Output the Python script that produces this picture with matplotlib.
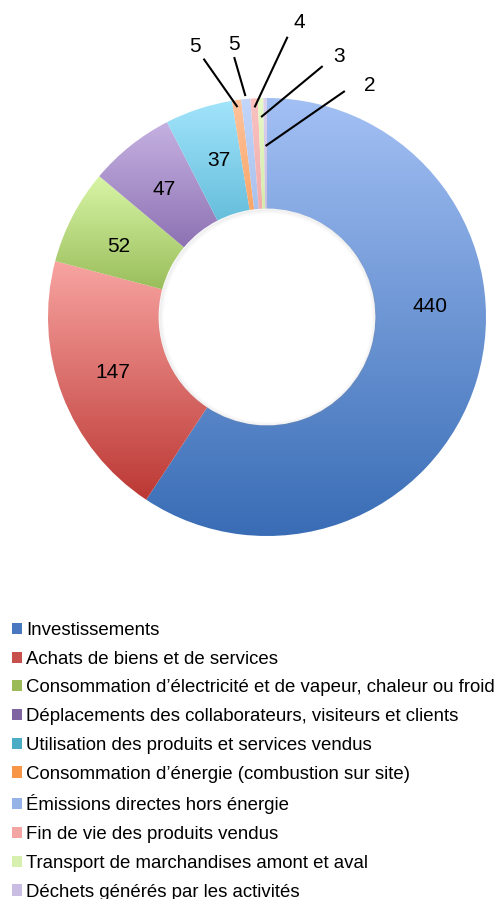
import numpy as np
import matplotlib
matplotlib.use('Agg')
import matplotlib.pyplot as plt
from matplotlib.colors import LinearSegmentedColormap
from matplotlib.patches import Patch, Circle

plt.rcParams['font.family'] = ['Liberation Sans', 'DejaVu Sans']

# données
categories = [
    'Investissements',
    'Achats de biens et de services',
    'Consommation d\u2019électricité et de vapeur, chaleur ou froid',
    'Déplacements des collaborateurs, visiteurs et clients',
    'Utilisation des produits et services vendus',
    'Consommation d\u2019énergie (combustion sur site)',
    'Émissions directes hors énergie',
    'Fin de vie des produits vendus',
    'Transport de marchandises amont et aval',
    'Déchets générés par les activités',
]
values = [440, 147, 52, 47, 37, 5, 5, 4, 3, 2]

# couleurs dégradées (haut, bas) et couleur de légende
grad_top = ['#a3c0f4', '#f8a4a1', '#d8f5a6', '#c5b1e1', '#a2e4fb',
            '#ffc39d', '#c3d6fa', '#f9c2c1', '#e6f9c6', '#dcd2ee']
grad_bot = ['#386cb5', '#bc3834', '#8bb049', '#6f4f9a', '#35a0c2',
            '#f58a33', '#8eaee0', '#e89a98', '#c4de95', '#b7a6d4']
legend_colors = ['#4a78c0', '#c8504c', '#9bbb59', '#8064a2', '#4bacc6',
                 '#f79646', '#95b3e7', '#f2a5a3', '#d7f0b0', '#c9bde3']

hole = 0.495
R_px = 219.0
cx_px, cy_px = 267.0, 317.0
W, H = 497, 899

fig = plt.figure(figsize=(W / 100, H / 100), dpi=100)
ax = fig.add_axes([0, 0, 1, 1])
ax.axis('off')

wedges, _ = ax.pie(values, startangle=90, counterclock=False, radius=1,
                   wedgeprops=dict(width=1 - hole, edgecolor='none', linewidth=0))

grad = np.linspace(0, 1, 256).reshape(-1, 1)
for w, ct, cb in zip(wedges, grad_top, grad_bot):
    verts = w.get_path().vertices
    x0, y0 = verts.min(axis=0)
    x1, y1 = verts.max(axis=0)
    cmap = LinearSegmentedColormap.from_list('g', [cb, ct])
    im = ax.imshow(grad, extent=[x0, x1, y0, y1], origin='lower', cmap=cmap,
                   aspect='auto', interpolation='bilinear', zorder=1)
    im.set_clip_path(w)
    w.set_facecolor('none')

# ombre douce au bord du trou
for k in range(5):
    ax.add_patch(Circle((0.004, -0.004), hole - k * 0.004, fill=False,
                        edgecolor='#909090', linewidth=1.2, alpha=0.08 - k * 0.015,
                        zorder=3))

# étiquettes
total = sum(values)
cum = np.cumsum([0] + values)
mid_angles = [90 - 360 * (cum[i] + values[i] / 2) / total for i in range(len(values))]
r_mid = (1 + hole) / 2
label_shift = [20.5, -1.0, 2.0, 0.5, -1.0]  # décalages angulaires (Excel)
for i in range(5):
    a = np.deg2rad(mid_angles[i] + label_shift[i])
    ax.text(r_mid * np.cos(a), r_mid * np.sin(a), str(values[i]),
            ha='center', va='center', fontsize=15, color='black', zorder=5)

# petites valeurs avec lignes de rappel
lab_r = [280, 275, 296, 270, 253]
lab_a = [105, 97, 83.8, 74.5, 66]
end_r = [212, 222, 210, 200, 171]
start_r = [266, 262, 281, 257, 239]
start_a = [103.8, 97.2, 85.8, 77.5, 71.0]
for j, i in enumerate(range(5, 10)):
    a_lab = np.deg2rad(lab_a[j])
    ax.text(lab_r[j] / R_px * np.cos(a_lab), lab_r[j] / R_px * np.sin(a_lab),
            str(values[i]), ha='center', va='center', fontsize=15, zorder=5)
    a_end = np.deg2rad(mid_angles[i])
    a_st = np.deg2rad(start_a[j])
    ax.plot([start_r[j] / R_px * np.cos(a_st), end_r[j] / R_px * np.cos(a_end)],
            [start_r[j] / R_px * np.sin(a_st), end_r[j] / R_px * np.sin(a_end)],
            color='black', linewidth=1.5, zorder=5, solid_capstyle='butt')

ax.set_xlim(-cx_px / R_px, (W - cx_px) / R_px)
ax.set_ylim(-(H - cy_px) / R_px, cy_px / R_px)

handles = [Patch(facecolor=c, edgecolor='none') for c in legend_colors]
fig.legend(handles, categories, loc='upper left',
           bbox_to_anchor=(12 / W, 1 - 622 / H), frameon=False,
           fontsize=13.4, handlelength=0.55, handleheight=0.55,
           handletextpad=0.2, labelspacing=0.63, borderpad=0, borderaxespad=0)

fig.savefig('out.png', dpi=100)
